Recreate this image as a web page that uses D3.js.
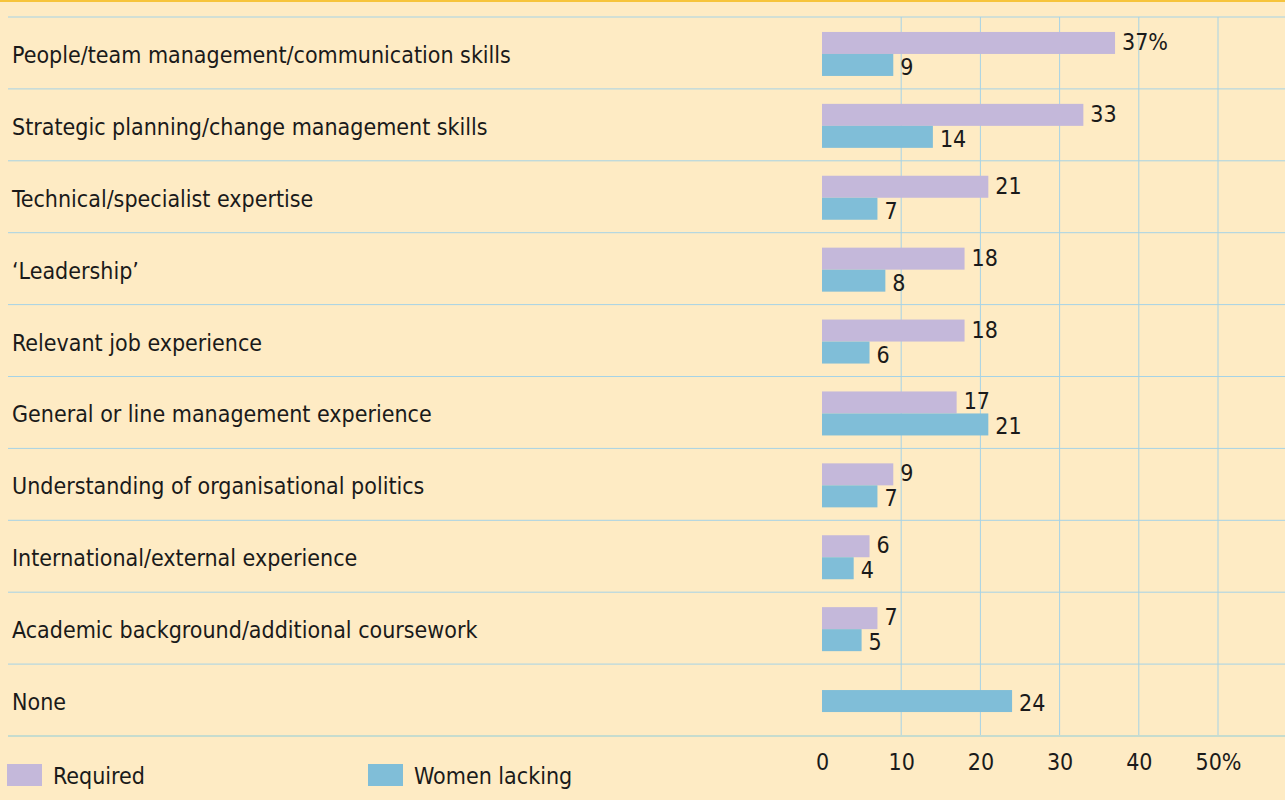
<!DOCTYPE html>
<html>
<head>
<meta charset="utf-8">
<script src="https://cdn.jsdelivr.net/npm/d3@7"></script>
<style>
  html, body { margin: 0; padding: 0; background: #feebc4; }
  svg { display: block; }
  text { font-family: "Liberation Sans Narrow", "DejaVu Sans Condensed", "Roboto", sans-serif; fill: #1a1a1a; }
</style>
</head>
<body>
<div id="chart"></div>
<script>
"use strict";

/* ── Data ── */
const categories = [
  "People/team management/communication skills",
  "Strategic planning/change management skills",
  "Technical/specialist expertise",
  "\u2018Leadership\u2019",
  "Relevant job experience",
  "General or line management experience",
  "Understanding of organisational politics",
  "International/external experience",
  "Academic background/additional coursework",
  "None"
];
const required     = [37, 33, 21, 18, 18, 17, 9, 6, 7, null];
const womenLacking = [9, 14, 7, 8, 6, 21, 7, 4, 5, 24];
const tickValues   = [0, 10, 20, 30, 40, 50];
const seriesNames  = ["Required", "Women lacking"];
const seriesColors = ["#c4b8da", "#80bed8"];

/* ── Layout ── */
const W = 1285, H = 800;
const gridColor = "#a6d3e6";

const svg = d3.select("#chart").append("svg")
  .attr("width", W).attr("height", H);

svg.append("rect").attr("width", W).attr("height", H).attr("fill", "#feebc4");
svg.append("rect").attr("x", 0).attr("y", 0).attr("width", W).attr("height", 2)
  .attr("fill", "#f6c43c");

const x = d3.scaleLinear().domain([0, 50]).range([822, 1218]);
const y = d3.scaleBand().domain(categories).range([17, 736]);

/* ── Vertical gridlines ── */
svg.selectAll(".vgrid")
  .data(tickValues.filter(d => d > 0))
  .join("line")
  .attr("class", "vgrid")
  .attr("x1", d => x(d)).attr("x2", d => x(d))
  .attr("y1", 17).attr("y2", 736)
  .attr("stroke", gridColor).attr("stroke-width", 1);

/* ── Row separators ── */
const boundaries = categories.map(c => y(c)).concat([y.range()[1]]);
svg.selectAll(".hgrid")
  .data(boundaries)
  .join("line")
  .attr("class", "hgrid")
  .attr("x1", 8).attr("x2", W)
  .attr("y1", d => d).attr("y2", d => d)
  .attr("stroke", (d, i) => i === boundaries.length - 1 ? "#c6dccf" : gridColor)
  .attr("stroke-width", (d, i) => i === boundaries.length - 1 ? 2 : 1);

/* ── Category labels ── */
svg.selectAll(".cat")
  .data(categories)
  .join("text")
  .attr("class", "cat")
  .attr("x", 12)
  .attr("y", d => y(d) + y.bandwidth() / 2 + 10)
  .attr("font-size", "23px")
  .text(d => d);

/* ── Bars ── */
const barH = 22;
const rows = categories.map((c, i) => ({ cat: c, req: required[i], wl: womenLacking[i] }));
const mid = d => y(d.cat) + y.bandwidth() / 2;

const reqRows = rows.filter(d => d.req != null);
svg.selectAll(".bar-req")
  .data(reqRows)
  .join("rect")
  .attr("class", "bar-req")
  .attr("x", x(0))
  .attr("y", d => mid(d) - 21)
  .attr("width", d => x(d.req) - x(0))
  .attr("height", barH)
  .attr("fill", seriesColors[0]);

svg.selectAll(".bar-wl")
  .data(rows)
  .join("rect")
  .attr("class", "bar-wl")
  .attr("x", x(0))
  .attr("y", d => d.req == null ? mid(d) - 10 : mid(d) + 1)
  .attr("width", d => x(d.wl) - x(0))
  .attr("height", barH)
  .attr("fill", seriesColors[1]);

/* ── Value labels ── */
svg.selectAll(".lab-req")
  .data(reqRows)
  .join("text")
  .attr("class", "lab-req")
  .attr("x", d => x(d.req) + 7)
  .attr("y", d => mid(d) - 3)
  .attr("font-size", "23px")
  .text((d, i) => i === 0 ? d.req + "%" : d.req);

svg.selectAll(".lab-wl")
  .data(rows)
  .join("text")
  .attr("class", "lab-wl")
  .attr("x", d => x(d.wl) + 7)
  .attr("y", d => (d.req == null ? mid(d) - 10 : mid(d) + 1) + barH - 1)
  .attr("font-size", "23px")
  .text(d => d.wl);

/* ── X axis ── */
const axis = svg.append("g")
  .attr("transform", "translate(0,746)")
  .call(d3.axisBottom(x).tickValues(tickValues).tickSize(0)
    .tickFormat(d => d === 50 ? "50%" : d));
axis.select(".domain").remove();
axis.selectAll(".tick text")
  .attr("font-size", "23px")
  .attr("font-family", "\"Liberation Sans Narrow\", \"DejaVu Sans Condensed\", sans-serif")
  .attr("fill", "#1a1a1a")
  .attr("dy", "0.9em");

/* ── Legend ── */
const legendX = [7, 368];
const legend = svg.selectAll(".legend")
  .data(seriesNames)
  .join("g")
  .attr("class", "legend")
  .attr("transform", (d, i) => `translate(${legendX[i]},764)`);
legend.append("rect")
  .attr("width", 35).attr("height", 22)
  .attr("fill", (d, i) => seriesColors[i]);
legend.append("text")
  .attr("x", 46).attr("y", 20)
  .attr("font-size", "23px")
  .text(d => d);
</script>
</body>
</html>
